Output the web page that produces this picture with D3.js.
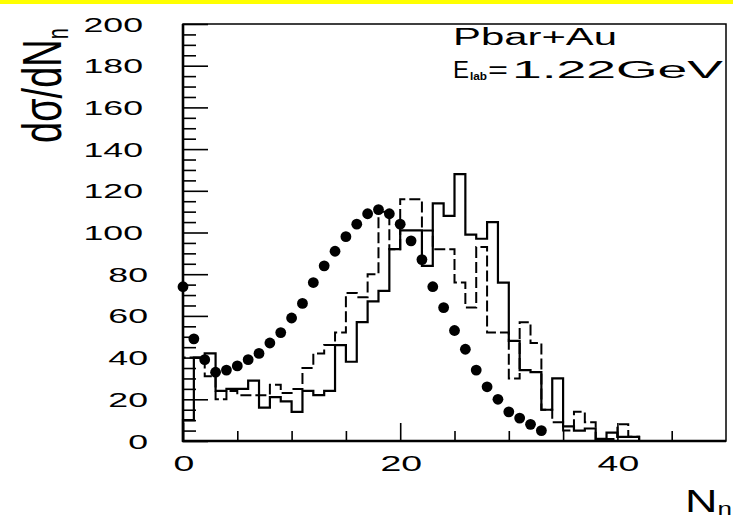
<!DOCTYPE html>
<html><head><meta charset="utf-8">
<script src="https://cdn.jsdelivr.net/npm/d3@7"></script>
<style>
body{margin:0;background:#fff;}
svg{display:block;}
text{font-family:"Liberation Sans",Arial,sans-serif;fill:#000;}
</style>
</head><body>
<svg id="c" width="733" height="520"></svg>
<script>
// ---- data ----
const dotN   = [0,1,2,3,4,5,6,7,8,9,10,11,12,13,14,15,16,17,18,19,20,21,22,23,24,25,26,27,28,29,30,31,32,33];
const dotVal = [74,49,39,33,34,36,39,42,47,52,59,66,76,84,91,98,104,109,111,109,104,96,87,74,64,53,44,34,26,20,14,11,8,5];
// histogram bins [k, k+1), k = 0..41
const solidCounts  = [10,40,42,24,25,25,29,16,21,19,14,24,22,24,46,38,57,67,72,92,101,101,84,114,108,128,99,97,105,76,48,34,33,15,30,7,5,6,1,4,2,2];
const dashedCounts = [40,40,31,20,24,22,22,22,27,23,25,35,42,46,52,71,69,80,110,92,116,116,101,92,92,76,64,93,52,52,30,57,47,15,9,5,14,9,1,1,8,2];
const xTickLabels = [0,20,40];
const yTickLabels = [0,20,40,60,80,100,120,140,160,180,200];
const xMinorTicks = [5,10,15,25,30,35,45];
const yMinorTicks = d3.range(5,200,5).filter(v => v % 20 !== 0);
const label1 = "Pbar+Au";
const label2 = ["E","lab","=","1.22GeV"];

// ---- layout ----
const svg = d3.select("#c");
const L = 183, R = 726, T = 24, B = 441;
const x = d3.scaleLinear().domain([0,50]).range([L,R]);
const y = d3.scaleLinear().domain([0,200]).range([B,T]);

// yellow strip on top
svg.append("rect").attr("x",0).attr("y",0).attr("width",733).attr("height",4).attr("fill","#ffff00");

// frame
svg.append("rect").attr("x",L).attr("y",T).attr("width",R-L).attr("height",B-T)
  .attr("fill","none").attr("stroke","#000").attr("stroke-width",1.5);

// y ticks (inside, to the right)
const yMaj = svg.append("g").attr("transform",`translate(${L},0)`)
  .call(d3.axisRight(y).tickValues(yTickLabels).tickSize(25).tickFormat(""));
const yMin = svg.append("g").attr("transform",`translate(${L},0)`)
  .call(d3.axisRight(y).tickValues(yMinorTicks).tickSize(13).tickFormat(""));
// x ticks (inside, upward)
const xMaj = svg.append("g").attr("transform",`translate(0,${B})`)
  .call(d3.axisTop(x).tickValues(xTickLabels).tickSize(18).tickFormat(""));
const xMin = svg.append("g").attr("transform",`translate(0,${B})`)
  .call(d3.axisTop(x).tickValues(xMinorTicks).tickSize(10).tickFormat(""));
[yMaj,yMin,xMaj,xMin].forEach(g=>{
  g.select(".domain").remove();
  g.selectAll("line").attr("stroke","#000").attr("stroke-width",1.6);
});
// thicker axis lines
svg.append("line").attr("x1",L).attr("x2",L).attr("y1",T).attr("y2",B+1).attr("stroke","#000").attr("stroke-width",2.6);
svg.append("line").attr("x1",L-1).attr("x2",R).attr("y1",B).attr("y2",B).attr("stroke","#000").attr("stroke-width",2.6);

// histograms
function stepPts(counts){
  const pts=[[0,0]];
  counts.forEach((v,i)=>{pts.push([i,v]);pts.push([i+1,v]);});
  pts.push([counts.length,0]);
  return pts;
}
const line = d3.line().x(d=>x(d[0])).y(d=>y(d[1]));
svg.append("path").attr("d",line(stepPts(dashedCounts)))
  .attr("fill","none").attr("stroke","#000").attr("stroke-width",2).attr("stroke-dasharray","11,4");
svg.append("path").attr("d",line(stepPts(solidCounts)))
  .attr("fill","none").attr("stroke","#000").attr("stroke-width",2.2);

// dots
svg.append("g").selectAll("circle").data(dotN).join("circle")
  .attr("cx",(d)=>x(d)).attr("cy",(d,i)=>y(dotVal[i])).attr("r",5.4).attr("fill","#000");

// y tick labels
svg.append("g").selectAll("text").data(yTickLabels).join("text")
  .attr("transform",d=>`translate(${String(d).length>2?143:148},${y(d)}) scale(1.7,1)`)
  .attr("text-anchor","end").attr("dy","0.36em").attr("font-size",21).text(d=>d);
// x tick labels
svg.append("g").selectAll("text").data(xTickLabels).join("text")
  .attr("transform",d=>`translate(${x(d)+1},471) scale(1.7,1)`)
  .attr("text-anchor","middle").attr("font-size",22).text(d=>d);

// axis titles
const xt = svg.append("text").attr("transform","translate(685,512) scale(1.45,1)").attr("font-size",31);
xt.append("tspan").text("N");
xt.append("tspan").attr("font-size",18).attr("dy",3).text("n");

const yt = svg.append("text").attr("transform","translate(61,143) scale(1.45,1) rotate(-90)").attr("font-size",38);
yt.append("tspan").text("dσ/dN");
yt.append("tspan").attr("font-size",20).attr("dy",5).text("n");

// annotation
svg.append("text").attr("x",453).attr("y",45).attr("font-size",23)
  .attr("textLength",164).attr("lengthAdjust","spacingAndGlyphs").text(label1);
svg.append("text").attr("x",453).attr("y",78).attr("font-size",23)
  .attr("textLength",16).attr("lengthAdjust","spacingAndGlyphs").text(label2[0]);
svg.append("text").attr("x",470).attr("y",80).attr("font-size",11).attr("font-weight","bold")
  .attr("textLength",17).attr("lengthAdjust","spacingAndGlyphs").text(label2[1]);
svg.append("text").attr("x",488).attr("y",78).attr("font-size",23)
  .attr("textLength",20).attr("lengthAdjust","spacingAndGlyphs").text(label2[2]);
svg.append("text").attr("x",512).attr("y",78).attr("font-size",23)
  .attr("textLength",211).attr("lengthAdjust","spacingAndGlyphs").text(label2[3]);
</script>
</body></html>
